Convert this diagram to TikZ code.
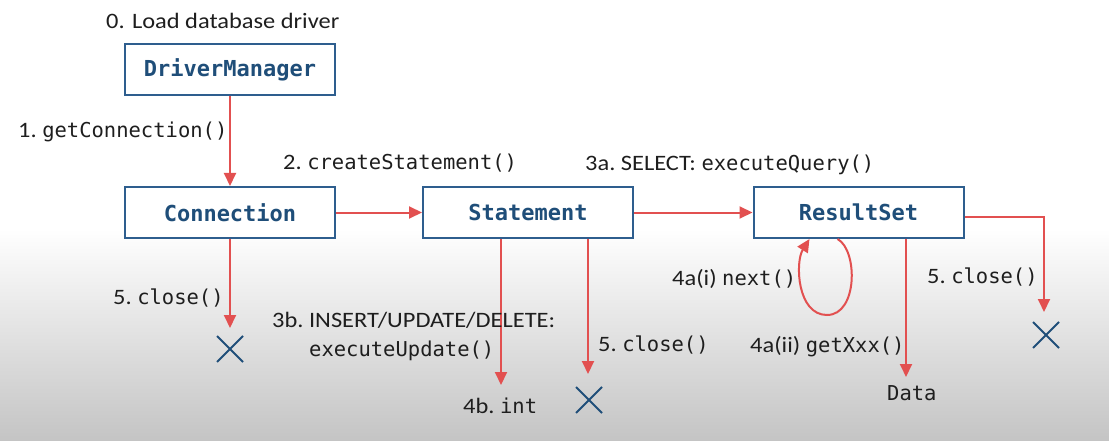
\documentclass[tikz,border=0pt]{standalone}
\usepackage{fontspec}
\newfontfamily\calfont[FakeStretch=1.11]{Carlito}
\newfontfamily\codefont{DejaVu Sans Mono}
\usetikzlibrary{arrows.meta,shapes.misc}
\definecolor{boxblue}{RGB}{46,94,142}
\definecolor{txtblue}{RGB}{31,78,121}
\definecolor{arrred}{RGB}{226,80,80}
\definecolor{labelgray}{RGB}{30,30,30}
\definecolor{bggray}{RGB}{196,196,196}
\newcommand\codetxt[1]{{\codefont\fontsize{20.5}{24}\selectfont #1}}
\begin{document}
\begin{tikzpicture}[x=1pt,y=-1pt,
 box/.style={draw=boxblue, line width=2pt, fill=white, minimum width=210pt, minimum height=51pt, inner sep=0pt, font=\codefont\bfseries\fontsize{22}{26}\selectfont, text=txtblue},
 lbl/.style={anchor=base west, inner sep=0pt, text=labelgray, font=\calfont\fontsize{22}{26}\selectfont},
 arr/.style={draw=arrred, line width=2pt, -{Triangle[length=13pt,width=12pt]}},
 xmark/.style={cross out, draw=txtblue, line width=2pt, minimum size=24pt, inner sep=0pt},
]
\useasboundingbox (0,0) rectangle (1109,441);
\fill[white] (0,0) rectangle (1109,230);
\shade[top color=white, bottom color=bggray] (0,229) rectangle (1109,441);

% boxes
\node[box] (dm) at (230,70) {DriverManager};
\node[box] (conn) at (230,212.5) {Connection};
\node[box] (stmt) at (528,212.5) {Statement};
\node[box] (rs) at (858.5,212.5) {ResultSet};

% x marks
\node[xmark] (x1) at (230,349) {};
\node[xmark] (x2) at (589,400) {};
\node[xmark] (x3) at (1046,335) {};

% arrow end points
\coordinate (e5a) at (230,328);
\coordinate (e4b) at (501,385);
\coordinate (e5b) at (588,374);
\coordinate (eData) at (906,377);
\coordinate (e5c) at (1044,312);

% connectors
\draw[arr] (dm.south) -- (conn.north);
\draw[arr] (conn.east) -- (stmt.west);
\draw[arr] (stmt.east) -- (rs.west);
\draw[arr] (conn.south) -- (e5a);
\draw[arr] (stmt.south -| e4b) -- (e4b);
\draw[arr] (stmt.south -| e5b) -- (e5b);
\draw[arr] (rs.south -| eData) -- (eData);
\draw[arr] ([yshift=-4pt]rs.east) -- ([yshift=-4pt]rs.east -| e5c) -- (e5c);
\draw[arr] ([xshift=85pt]rs.south west) .. controls (858,250) and (858,315) .. (827,315)
  .. controls (797,315) and (795,262) .. ([xshift=57pt]rs.south west);

% labels
\node[lbl] (l0) at (106,29) {0. Load database driver};
\node[lbl] (l1) at (18,138) {1.\ \codetxt{getConnection()}};
\node[lbl] (l2) at (283,170) {2.\ \codetxt{createStatement()}};
\node[lbl] (l3a) at (585,171) {3a.\ SELECT: \codetxt{executeQuery()}};
\node[lbl] (l5a) at (113,304) {5.\ \codetxt{close()}};
\node[lbl] (l3b) at (272,327) {3b.\ INSERT/UPDATE/DELETE:};
\node[lbl] (l3b2) at (309,356) {\codetxt{executeUpdate()}};
\node[lbl] (l5b) at (598,351) {5.\ \codetxt{close()}};
\node[lbl] (l4b) at (463,413) {4b.\ \codetxt{int}};
\node[lbl] (l4ai) at (672,285) {4a(i) \codetxt{next()}};
\node[lbl] (l4aii) at (750,352) {4a(ii) \codetxt{getXxx()}};
\node[lbl] (l5c) at (927,283) {5.\ \codetxt{close()}};
\node[lbl] (ldata) at (887,400) {\codetxt{Data}};
\end{tikzpicture}
\end{document}
